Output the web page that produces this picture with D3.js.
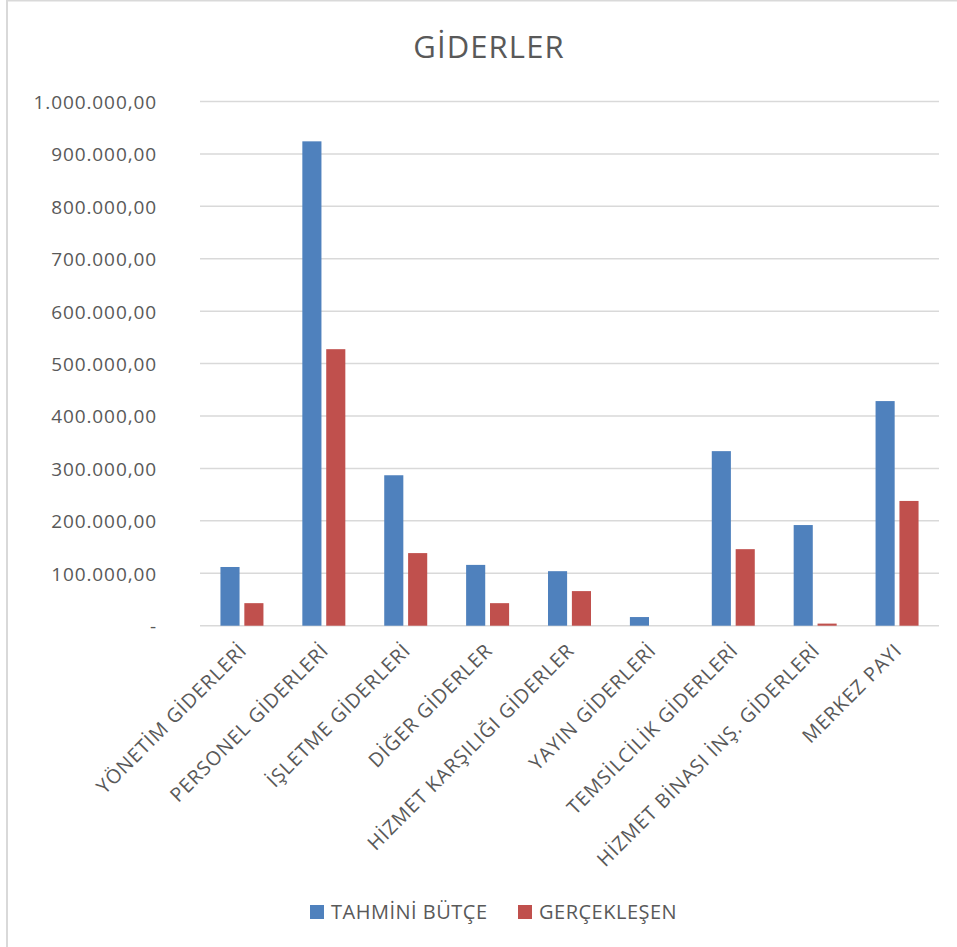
<!DOCTYPE html>
<html>
<head>
<meta charset="utf-8">
<script src="https://cdn.jsdelivr.net/npm/d3@7"></script>
<style>
  body { margin: 0; background: #fff; }
  svg { display: block; font-family: "Open Sans", sans-serif; }
</style>
</head>
<body>
<svg id="chart" width="957" height="947"></svg>
<script>
var categories = [
  "YÖNETİM GİDERLERİ", "PERSONEL GİDERLERİ", "İŞLETME GİDERLERİ", "DİĞER GİDERLER",
  "HİZMET KARŞILIĞI GİDERLER", "YAYIN GİDERLERİ", "TEMSİLCİLİK GİDERLERİ",
  "HİZMET BİNASI İNŞ. GİDERLERİ", "MERKEZ PAYI"
];
var seriesNames = ["TAHMİNİ BÜTÇE", "GERÇEKLEŞEN"];
var tahminiButce = [112000, 924000, 287000, 116000, 104000, 16500, 333000, 192000, 428500];
var gerceklesen = [43000, 527500, 138500, 43000, 66000, 0, 146000, 4000, 238000];
var yTicks = [0, 100000, 200000, 300000, 400000, 500000, 600000, 700000, 800000, 900000, 1000000];
var colours = ["#4f81bd", "#c0504d"];

var svg = d3.select("#chart");
var textColour = "#595959";

// chart frame
svg.append("rect")
  .attr("x", 7).attr("y", 0.5)
  .attr("width", 960).attr("height", 960)
  .attr("fill", "none").attr("stroke", "#d9d9d9").attr("stroke-width", 2);

var plot = { left: 201, right: 938, top: 101.5, bottom: 625.7 };

var y = d3.scaleLinear().domain([0, 1000000]).range([plot.bottom, plot.top]);
var x0 = d3.scaleBand().domain(categories).range([plot.left, plot.right])
  .paddingInner(0.475).paddingOuter(0.2375);
var x1 = d3.scaleBand().domain(seriesNames).range([0, x0.bandwidth()]).paddingInner(0.2);

function fmt(v) {
  if (v === 0) return "-";
  var s = d3.format(",.2f")(v);
  return s.replace(/,/g, "#").replace(/\./g, ",").replace(/#/g, ".");
}

// title
svg.append("text")
  .attr("x", 489).attr("y", 58)
  .attr("text-anchor", "middle")
  .attr("fill", textColour)
  .style("font-size", "31px")
  .style("letter-spacing", "1.1px")
  .text("GİDERLER");

// gridlines
svg.append("g").selectAll("line").data(yTicks).enter()
  .append("line")
  .attr("x1", plot.left - 1).attr("x2", plot.right + 1)
  .attr("y1", function (d) { return y(d); })
  .attr("y2", function (d) { return y(d); })
  .attr("stroke", "#d9d9d9").attr("stroke-width", 1.5);

// y axis labels
var yAxis = d3.axisLeft(y).tickValues(yTicks).tickFormat(fmt).tickSize(0).tickPadding(0);
var yg = svg.append("g").attr("transform", "translate(157,0)").call(yAxis);
yg.select(".domain").remove();
yg.selectAll("text")
  .attr("fill", textColour)
  .attr("dy", "0.36em")
  .style("font-size", "19px")
  .style("font-family", "'Open Sans', sans-serif")
  .style("letter-spacing", "0.9px");

// bars
var rows = categories.map(function (c, i) {
  return { cat: c, values: [tahminiButce[i], gerceklesen[i]] };
});
var groups = svg.append("g").selectAll("g").data(rows).enter()
  .append("g")
  .attr("transform", function (d) { return "translate(" + x0(d.cat) + ",0)"; });
groups.selectAll("rect")
  .data(function (d) {
    return d.values.map(function (v, j) { return { name: seriesNames[j], value: v, j: j }; });
  })
  .enter().append("rect")
  .attr("x", function (d) { return x1(d.name); })
  .attr("width", x1.bandwidth())
  .attr("y", function (d) { return y(d.value); })
  .attr("height", function (d) { return y(0) - y(d.value); })
  .attr("fill", function (d) { return colours[d.j]; });

// x axis labels, rotated
var xAxis = d3.axisBottom(x0).tickSize(0).tickPadding(0);
var xg = svg.append("g").attr("transform", "translate(0," + plot.bottom + ")").call(xAxis);
xg.select(".domain").remove();
xg.selectAll("text")
  .attr("fill", textColour)
  .attr("y", 0).attr("dy", 0)
  .style("font-size", "19.6px")
  .style("font-family", "'Open Sans', sans-serif")
  .style("letter-spacing", "0.95px")
  .attr("text-anchor", "end")
  .attr("transform", "translate(6,26) rotate(-45)");

// legend
var legendX = [310, 518];
var legend = svg.append("g").selectAll("g").data(seriesNames).enter()
  .append("g")
  .attr("transform", function (d, i) { return "translate(" + legendX[i] + ",905)"; });
legend.append("rect")
  .attr("width", 14).attr("height", 14)
  .attr("fill", function (d, i) { return colours[i]; });
legend.append("text")
  .attr("x", 21).attr("y", 14)
  .attr("fill", textColour)
  .style("font-size", "20px")
  .style("letter-spacing", "0.5px")
  .text(function (d) { return d; });
</script>
</body>
</html>
